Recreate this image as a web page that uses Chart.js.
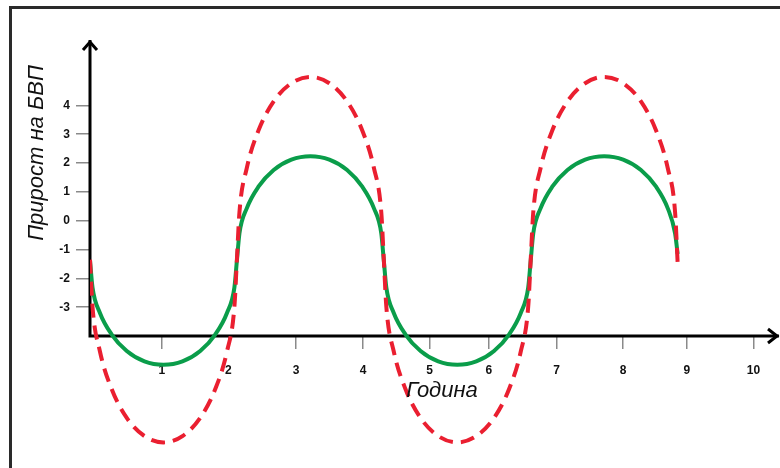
<!DOCTYPE html>
<html>
<head>
<meta charset="utf-8">
<script src="https://cdn.jsdelivr.net/npm/chart.js@4/dist/chart.umd.min.js"></script>
<style>
  html, body { margin: 0; padding: 0; background: #ffffff; }
  #wrap { width: 780px; height: 468px; }
  canvas { display: block; background: #ffffff; }
</style>
</head>
<body>
<div id="wrap"><canvas id="c" width="780" height="468"></canvas></div>
<script>
// ---- data ----
const xValues = [
  0, 0.038, 0.148, 0.324, 0.553, 0.819, 1.105, 1.391, 1.658, 1.886, 2.062, 2.172, 2.21,
  2.248, 2.358, 2.534, 2.763, 3.029, 3.315, 3.601, 3.868, 4.096, 4.272, 4.382, 4.42,
  4.458, 4.568, 4.744, 4.973, 5.239, 5.525, 5.811, 6.078, 6.306, 6.482, 6.592, 6.63,
  6.668, 6.778, 6.954, 7.183, 7.449, 7.735, 8.021, 8.288, 8.516, 8.692, 8.802, 8.84
];
const greenValues = [
  -1.38, -2.32, -3.19, -3.94, -4.52, -4.88, -5.00, -4.88, -4.52, -3.94, -3.19, -2.32, -1.38,
  -0.44, 0.43, 1.18, 1.76, 2.12, 2.24, 2.12, 1.76, 1.18, 0.43, -0.44, -1.38,
  -2.32, -3.19, -3.94, -4.52, -4.88, -5.00, -4.88, -4.52, -3.94, -3.19, -2.32, -1.38,
  -0.44, 0.43, 1.18, 1.76, 2.12, 2.24, 2.12, 1.76, 1.18, 0.43, -0.44, -1.15
];
const redValues = [
  -1.35, -2.99, -4.52, -5.83, -6.84, -7.47, -7.69, -7.47, -6.84, -5.83, -4.52, -2.99, -1.35,
  0.29, 1.82, 3.13, 4.14, 4.77, 4.99, 4.77, 4.14, 3.13, 1.82, 0.29, -1.35,
  -2.99, -4.52, -5.83, -6.84, -7.47, -7.69, -7.47, -6.84, -5.83, -4.52, -2.99, -1.35,
  0.29, 1.82, 3.13, 4.14, 4.77, 4.99, 4.77, 4.14, 3.13, 1.82, 0.29, -1.45
];
const xTickValues = [1.08, 2.08, 3.1, 4.11, 5.11, 6.0, 7.02, 8.02, 8.98, 9.98];
const xTickLabels = ['1', '2', '3', '4', '5', '6', '7', '8', '9', '10'];
const yTickValues = [-3, -2, -1, 0, 1, 2, 3, 4];
const yTickLabels = ['-3', '-2', '-1', '0', '1', '2', '3', '4'];
const xTitle = 'Година';
const yTitle = 'Прирост на БВП';
const axisBaseY = -4;

const toPoints = (ys) => ys.map((y, i) => ({ x: xValues[i], y: y }));

const decorPlugin = {
  id: 'decor',
  beforeDatasetsDraw(chart) {
    const ctx = chart.ctx;
    const xs = chart.scales.x, ys = chart.scales.y;
    const ox = xs.getPixelForValue(0);
    const oy = ys.getPixelForValue(axisBaseY);
    const topY = chart.chartArea.top - 2;
    const rightX = chart.chartArea.right + 1;
    ctx.save();
    // frame (top and left)
    ctx.strokeStyle = '#2a2a2a';
    ctx.lineWidth = 3;
    ctx.beginPath();
    ctx.moveTo(10.5, 468); ctx.lineTo(10.5, 7.5); ctx.lineTo(780, 7.5);
    ctx.stroke();
    // axes
    ctx.strokeStyle = '#000';
    ctx.lineWidth = 3;
    ctx.lineCap = 'butt';
    ctx.beginPath();
    ctx.moveTo(ox, oy + 1.5); ctx.lineTo(ox, topY);
    ctx.moveTo(ox - 1.5, oy); ctx.lineTo(rightX, oy);
    ctx.stroke();
    // arrow heads
    ctx.lineJoin = 'miter';
    ctx.beginPath();
    ctx.moveTo(ox - 7, topY + 10); ctx.lineTo(ox, topY + 2); ctx.lineTo(ox + 7, topY + 10);
    ctx.moveTo(rightX - 11, oy - 7); ctx.lineTo(rightX - 2, oy); ctx.lineTo(rightX - 11, oy + 7);
    ctx.stroke();
    ctx.restore();
  },
  afterDraw(chart) {
    const ctx = chart.ctx;
    ctx.save();
    ctx.fillStyle = '#111';
    ctx.font = 'italic 22px "Liberation Sans", Arial, sans-serif';
    ctx.textAlign = 'center';
    ctx.textBaseline = 'alphabetic';
    ctx.fillText(xTitle, 442, 397);
    ctx.translate(43, 153);
    ctx.rotate(-Math.PI / 2);
    ctx.fillText(yTitle, 0, 0);
    ctx.restore();
  }
};

new Chart(document.getElementById('c'), {
  type: 'line',
  data: {
    datasets: [
      {
        label: 'red',
        data: toPoints(redValues),
        borderColor: '#ea1f30',
        borderWidth: 4,
        borderDash: [14, 8],
        pointRadius: 0,
        fill: false,
        cubicInterpolationMode: 'monotone',
        order: 0
      },
      {
        label: 'green',
        data: toPoints(greenValues),
        borderColor: '#0a9d4a',
        borderWidth: 4,
        pointRadius: 0,
        fill: false,
        cubicInterpolationMode: 'monotone',
        order: 1
      }
    ]
  },
  options: {
    responsive: false,
    devicePixelRatio: 1,
    animation: false,
    layout: { padding: { left: 10, top: 42, right: 2, bottom: 8 } },
    plugins: { legend: { display: false }, tooltip: { enabled: false } },
    scales: {
      x: {
        type: 'linear',
        position: { y: axisBaseY },
        min: 0,
        max: 10.35,
        afterFit(scale) { scale.height = 0; scale.paddingLeft = 0; scale.paddingRight = 0; },
        afterBuildTicks(scale) { scale.ticks = xTickValues.map(v => ({ value: v })); },
        ticks: {
          autoSkip: false,
          maxRotation: 0,
          padding: 14,
          color: '#111',
          font: { family: '"Liberation Sans", Arial, sans-serif', size: 12, weight: 'bold' },
          callback: (v, i) => xTickLabels[i]
        },
        grid: { drawOnChartArea: false, drawTicks: true, tickLength: 13, color: '#8a8a8a', lineWidth: 1.5 },
        border: { display: false }
      },
      y: {
        type: 'linear',
        position: 'left',
        min: -8.3,
        max: 6.2,
        afterFit(scale) { scale.width = 80; scale.paddingTop = 0; scale.paddingBottom = 0; },
        afterBuildTicks(scale) { scale.ticks = yTickValues.map(v => ({ value: v })); },
        ticks: {
          autoSkip: false,
          padding: 6,
          color: '#111',
          font: { family: '"Liberation Sans", Arial, sans-serif', size: 12, weight: 'bold' },
          callback: (v, i) => yTickLabels[i]
        },
        grid: { drawOnChartArea: false, drawTicks: true, tickLength: 14, color: '#8a8a8a', lineWidth: 1.5 },
        border: { display: false }
      }
    }
  },
  plugins: [decorPlugin]
});
</script>
</body>
</html>
